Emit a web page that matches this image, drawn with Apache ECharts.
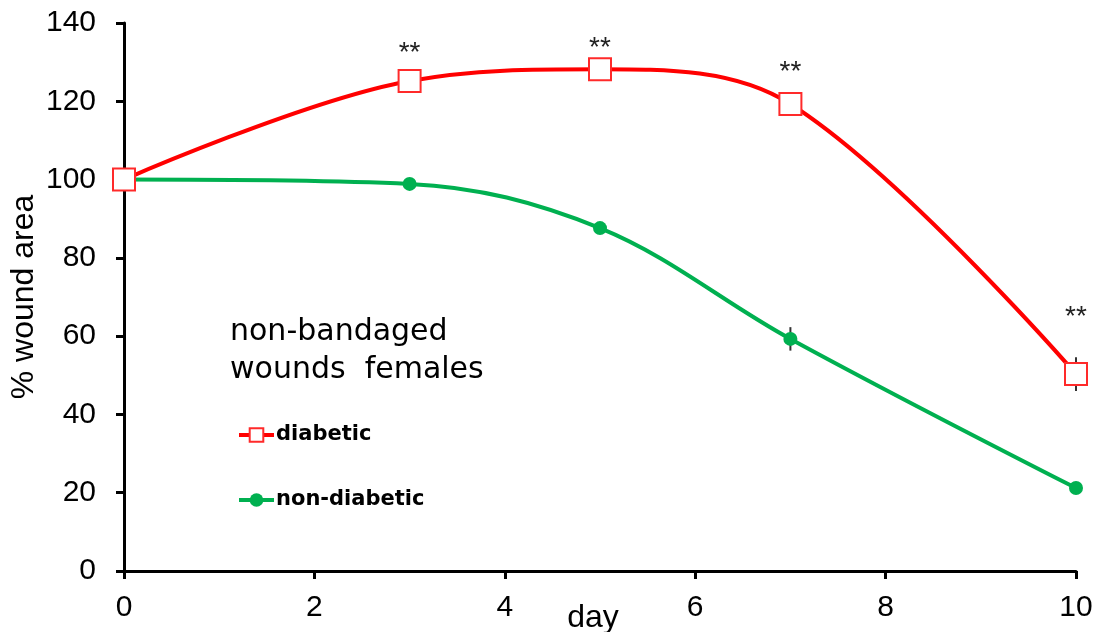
<!DOCTYPE html>
<html>
<head>
<meta charset="utf-8">
<script src="https://cdn.jsdelivr.net/npm/echarts@6/dist/echarts.min.js"></script>
<style>
    html, body { margin: 0; padding: 0; background: #fff; }
    #main { width: 1101px; height: 632px; }
</style>
</head>
<body>
<div id="main"></div>
<script>
var days = [0, 3, 5, 7, 10];
var diabetic = [100, 125.2, 128.2, 119.3, 50.3];
var diabeticErr = [0, 1, 1, 1.5, 4.3];
var nonDiabetic = [100, 98.9, 87.6, 59.3, 21.2];
var nonDiabeticErr = [0, 0.5, 1.2, 3, 0.5];
var stars = ['', '**', '**', '**', '**'];
var xTicks = [0, 2, 4, 6, 8, 10];
var yTicks = [0, 20, 40, 60, 80, 100, 120, 140];

var font = 'Liberation Sans, Arial, sans-serif';
var wideFont = 'DejaVu Sans, sans-serif';
var myChart;

window.onload = function () {
    myChart = echarts.init(document.getElementById('main'));
    drawChart();
};

function pairs(x, y) {
    var arr = [];
    for (var i = 0; i < x.length; i++) {
        arr.push([x[i], y[i]]);
    }
    return arr;
}

function errData(x, y, e) {
    var arr = [];
    for (var i = 0; i < x.length; i++) {
        if (e[i] > 0) arr.push([x[i], y[i] - e[i], y[i] + e[i]]);
    }
    return arr;
}

function renderErr(params, api) {
    var lo = api.coord([api.value(0), api.value(1)]);
    var hi = api.coord([api.value(0), api.value(2)]);
    return {
        type: 'line',
        shape: { x1: lo[0], y1: lo[1], x2: hi[0], y2: hi[1] },
        style: { stroke: '#333', lineWidth: 2 }
    };
}

function drawChart() {
    // 星号位置按点微调
    var starShift = [0, -2, 5, -6, -31];
    var diaData = [];
    for (var i = 0; i < days.length; i++) {
        var item = { value: [days[i], diabetic[i]] };
        if (stars[i]) {
            item.label = {
                show: true,
                position: 'top',
                distance: 0,
                offset: [0, starShift[i]],
                formatter: stars[i],
                fontSize: 28,
                color: '#222',
                fontFamily: font
            };
        }
        diaData.push(item);
    }

    var option = {
        animation: false,
        backgroundColor: '#fff',
        grid: {
            left: 124,
            right: 25,
            top: 23,
            bottom: 61,
            containLabel: false,
            outerBoundsMode: 'none'
        },
        title: {
            text: 'non-bandaged\nwounds  females',
            left: 225,
            top: 308,
            textStyle: {
                fontFamily: wideFont,
                fontSize: 30,
                fontWeight: 'normal',
                color: '#000',
                lineHeight: 38
            }
        },
        legend: {
            orient: 'vertical',
            left: 232,
            top: 418,
            itemGap: 41,
            itemWidth: 35,
            itemHeight: 17,
            data: ['diabetic', 'non-diabetic'],
            lineStyle: { width: 4 },
            textStyle: {
                fontFamily: wideFont,
                fontSize: 21,
                fontWeight: 'bold',
                color: '#000',
                lineHeight: 24,
                padding: [0, 0, 0, -3]
            }
        },
        xAxis: {
            type: 'value',
            min: 0,
            max: 10,
            interval: 2,
            name: 'day',
            nameLocation: 'middle',
            nameGap: 31,
            nameMoveOverlap: false,
            nameTextStyle: {
                fontFamily: font,
                fontSize: 32,
                color: '#000',
                padding: [0, 14, 0, 0]
            },
            axisLine: { lineStyle: { color: '#000', width: 3 } },
            axisTick: { length: 8, lineStyle: { color: '#000', width: 3 } },
            axisLabel: {
                margin: 22,
                fontFamily: font,
                fontSize: 30,
                color: '#000',
                formatter: function (v) { return xTicks.indexOf(v) >= 0 ? v : ''; }
            },
            splitLine: { show: false }
        },
        yAxis: {
            type: 'value',
            min: 0,
            max: 140,
            interval: 20,
            name: '% wound area',
            nameLocation: 'middle',
            nameGap: 84,
            nameMoveOverlap: false,
            nameTextStyle: {
                fontFamily: font,
                fontSize: 32,
                color: '#000'
            },
            axisLine: { show: true, lineStyle: { color: '#000', width: 3 } },
            axisTick: { show: true, length: 8, lineStyle: { color: '#000', width: 3 } },
            axisLabel: {
                margin: 28,
                fontFamily: font,
                fontSize: 30,
                color: '#000',
                formatter: function (v) { return yTicks.indexOf(v) >= 0 ? v : ''; }
            },
            splitLine: { show: false }
        },
        series: [{
            name: 'diabetic err',
            type: 'custom',
            renderItem: renderErr,
            data: errData(days, diabetic, diabeticErr),
            z: 1,
            silent: true
        }, {
            name: 'non-diabetic err',
            type: 'custom',
            renderItem: renderErr,
            data: errData(days, nonDiabetic, nonDiabeticErr),
            z: 1,
            silent: true
        }, {
            name: 'non-diabetic',
            type: 'line',
            smooth: 0.35,
            symbol: 'circle',
            symbolSize: 14,
            lineStyle: { color: '#00b050', width: 4 },
            itemStyle: { color: '#00b050', borderWidth: 0 },
            data: pairs(days, nonDiabetic),
            z: 3
        }, {
            name: 'diabetic',
            type: 'line',
            smooth: 0.35,
            symbol: 'rect',
            symbolSize: 22,
            lineStyle: { color: '#ff0000', width: 4 },
            itemStyle: { color: '#fff', borderColor: '#ff2a2a', borderWidth: 2 },
            data: diaData,
            z: 4
        }]
    };

    myChart.setOption(option);
}
</script>
</body>
</html>
